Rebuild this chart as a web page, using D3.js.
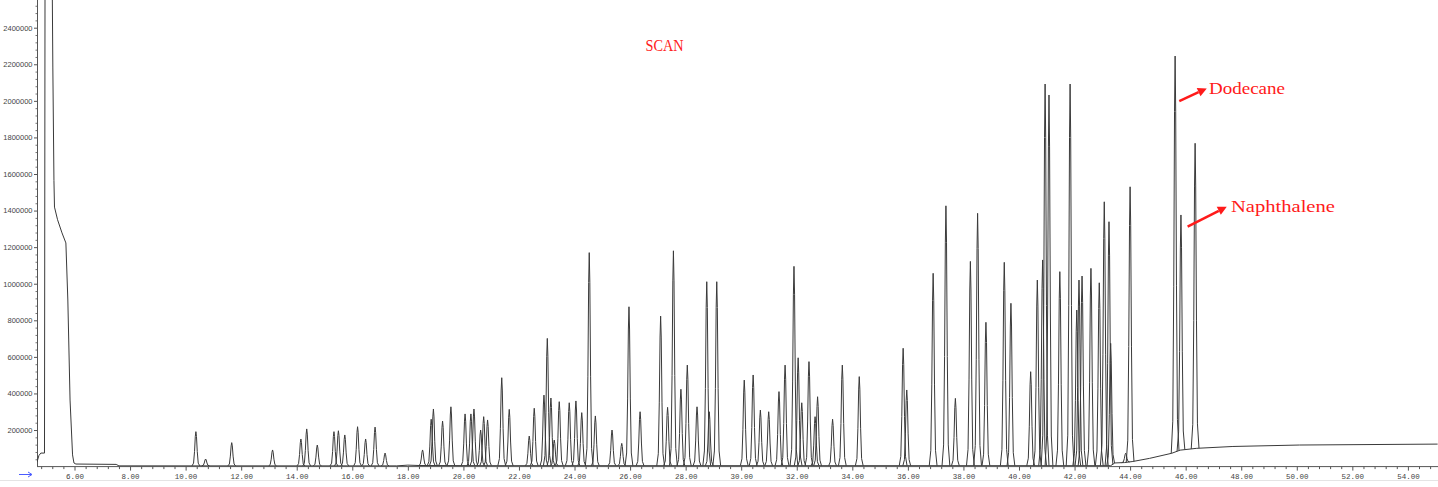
<!DOCTYPE html>
<html>
<head>
<meta charset="utf-8">
<script src="https://cdnjs.cloudflare.com/ajax/libs/d3/7.8.5/d3.min.js"></script>
<style>
  html, body { margin: 0; padding: 0; background: #fff; }
  svg { display: block; }
</style>
</head>
<body>
<svg id="chromatogram"></svg>
<script>
'use strict';

// tick labels
var xTicks = [6, 8, 10, 12, 14, 16, 18, 20, 22, 24, 26, 28, 30, 32, 34, 36, 38, 40, 42, 44, 46, 48, 50, 52, 54];
var yTicks = [200000, 400000, 600000, 800000, 1000000, 1200000, 1400000, 1600000, 1800000, 2000000, 2200000, 2400000];

// solvent front, read vertex by vertex (min, abundance)
var solventTime = [4.65, 4.72, 4.79, 4.92, 4.94, 5.19, 5.22, 5.26, 5.28, 5.39, 5.55, 5.69, 5.76, 5.84, 5.93, 5.98, 6.05];
var solventAbund = [25000, 61000, 74000, 74000, 2800000, 2800000, 2185000, 1564000, 1419000, 1350000, 1278000, 1223000, 911000, 364000, 64000, 20000, 14000];

// baseline drift
var baseTime = [6.05, 7.50, 7.60, 17.6, 18.0, 18.4, 21.0, 43.30, 43.45, 43.80, 44.10, 44.70, 45.50, 45.80, 46.40, 47.70, 50.10, 55.07];
var baseAbund = [14000, 12000, 4000, 4000, 8000, 6000, 5000, 5000, 20000, 22000, 28000, 45000, 73000, 90000, 100000, 110000, 118000, 123000];

// peak apexes: retention time (min) and abundance
var peakTime = [10.37, 10.72, 11.66, 13.13, 14.15, 14.36, 14.74, 15.34, 15.50, 15.73,
  16.19, 16.48, 16.82, 17.18, 18.53, 18.84, 18.92, 19.25, 19.55, 20.06,
  20.27, 20.38, 20.62, 20.73, 20.87, 21.38, 21.65, 22.37, 22.55, 22.90,
  23.02, 23.15, 23.27, 23.45, 23.81, 24.05, 24.26, 24.53, 24.75, 25.35,
  25.70, 25.96, 26.36, 27.10, 27.35, 27.56, 27.83, 28.06, 28.41, 28.76,
  28.85, 29.12, 30.11, 30.43, 30.69, 30.99, 31.36, 31.58, 31.90, 32.05,
  32.18, 32.44, 32.66, 32.75, 33.29, 33.64, 34.25, 35.83, 35.96, 36.91,
  37.37, 37.71, 38.25, 38.51, 38.81, 39.47, 39.71, 40.42, 40.66, 40.85,
  40.94, 41.08, 41.47, 41.84, 42.08, 42.16, 42.27, 42.59, 42.89, 43.07,
  43.24, 43.30, 43.84, 44.00, 45.62, 45.83, 46.34];
var peakAbund = [191000, 41500, 131000, 91000, 151000, 206000, 118000, 191000, 196000, 173000,
  218000, 151000, 216000, 74000, 91000, 259000, 315000, 249000, 327000, 288000,
  288000, 315000, 200000, 273000, 255000, 486000, 313000, 167000, 319000, 391000,
  701000, 375000, 145000, 355000, 349000, 359000, 295000, 1170000, 277000, 200000,
  127000, 874000, 300000, 823000, 324000, 1180000, 423000, 555000, 327000, 1011000,
  300000, 1011000, 473000, 501000, 309000, 300000, 410000, 555000, 1095000, 595000,
  349000, 574000, 273000, 382000, 259000, 555000, 492000, 647000, 419000, 1057000,
  1426000, 373000, 1122000, 1385000, 789000, 1117000, 893000, 519000, 1020000, 1130000,
  2092000, 2032000, 1066000, 2092000, 856000, 1020000, 1042000, 1084000, 1005000, 1448000,
  1339000, 674000, 73000, 1530000, 2245000, 1376000, 1768000];

// annotations (data units)
var titleText = 'SCAN';
var titlePos = [26.555, 2272000];
var annoLabels = ['Dodecane', 'Naphthalene'];
var annoTextPos = [[46.84, 2037000], [47.63, 1392000]];
var annoArrowFrom = [[45.77, 1999000], [46.07, 1312000]];
var annoArrowTo = [[46.76, 2068000], [47.48, 1421000]];

var width = 1438, height = 487;
var plotLeft = 37, plotRight = 1438, plotTop = 0, plotBottom = 466.6;

var x = d3.scaleLinear().domain([6, 54]).range([74.5, 1407.9]);
var y = d3.scaleLinear().domain([0, 2400000]).range([plotBottom, 27.7]);
var baseline = d3.scaleLinear().domain(baseTime).range(baseAbund).clamp(true);

var svg = d3.select('#chromatogram')
  .attr('width', width)
  .attr('height', height);

svg.append('defs').append('clipPath')
  .attr('id', 'plot-clip')
  .append('rect')
  .attr('x', plotLeft)
  .attr('y', plotTop)
  .attr('width', plotRight - plotLeft)
  .attr('height', plotBottom - plotTop);

// faint rule under the axis labels
svg.append('line')
  .attr('x1', 0).attr('x2', width)
  .attr('y1', 480.5).attr('y2', 480.5)
  .attr('stroke', '#e4e4e4')
  .attr('stroke-width', 1);

// ---- axes ----
var axisColor = '#555';

var xAxis = svg.append('g')
  .attr('transform', 'translate(0,' + plotBottom + ')')
  .call(d3.axisBottom(x).tickValues(xTicks).tickSize(4).tickFormat(d3.format('.2f')));
xAxis.select('.domain').remove();
xAxis.selectAll('line').attr('stroke', axisColor);
xAxis.selectAll('text')
  .attr('y', 12)
  .attr('dy', 0)
  .attr('fill', '#444')
  .style('font-family', 'Liberation Mono, monospace')
  .style('font-size', '7.5px');

var xMinor = d3.range(4.8, 55.1, 0.4).filter(function(t) {
  return Math.abs(t / 2 - Math.round(t / 2)) > 0.01;
});
var xMinorAxis = svg.append('g')
  .attr('transform', 'translate(0,' + plotBottom + ')')
  .call(d3.axisBottom(x).tickValues(xMinor).tickSize(2.5).tickFormat(''));
xMinorAxis.select('.domain').remove();
xMinorAxis.selectAll('line').attr('stroke', axisColor);

var yAxis = svg.append('g')
  .attr('transform', 'translate(' + plotLeft + ',0)')
  .call(d3.axisLeft(y).tickValues(yTicks).tickSize(3).tickPadding(1.5).tickFormat(d3.format('d')));
yAxis.select('.domain').remove();
yAxis.selectAll('line').attr('stroke', axisColor);
yAxis.selectAll('text')
  .attr('fill', '#444')
  .style('font-family', 'Liberation Sans, Arial, sans-serif')
  .style('font-size', '7.5px');

var yMinor = d3.range(40000, 2560000, 40000).filter(function(v) { return v % 200000 !== 0; });
var yMinorAxis = svg.append('g')
  .attr('transform', 'translate(' + plotLeft + ',0)')
  .call(d3.axisLeft(y).tickValues(yMinor).tickSize(1.5).tickFormat(''));
yMinorAxis.select('.domain').remove();
yMinorAxis.selectAll('line').attr('stroke', '#777');

svg.append('line')
  .attr('x1', plotLeft + 0.5).attr('x2', plotLeft + 0.5)
  .attr('y1', plotTop).attr('y2', plotBottom)
  .attr('stroke', axisColor);
svg.append('line')
  .attr('x1', plotLeft).attr('x2', plotRight)
  .attr('y1', plotBottom).attr('y2', plotBottom)
  .attr('stroke', axisColor);

// little blue arrow left of the time axis
svg.append('path')
  .attr('d', 'M19,474.5H31.5M28,472L32,474.5L28,477')
  .attr('fill', 'none')
  .attr('stroke', '#4b5cff')
  .attr('stroke-width', 1);

// ---- trace ----
var trace = svg.append('g').attr('clip-path', 'url(#plot-clip)');
var line = d3.line()
  .x(function(d) { return x(d[0]); })
  .y(function(d) { return y(d[1]); });
var traceColor = '#3a3a3a';

var solvent = solventTime.map(function(t, i) { return [t, solventAbund[i]]; });
trace.append('path')
  .attr('d', line(solvent))
  .attr('fill', 'none')
  .attr('stroke', traceColor)
  .attr('stroke-width', 1);

var base = baseTime.map(function(t, i) { return [t, baseAbund[i]]; });
trace.append('path')
  .attr('d', line(base))
  .attr('fill', 'none')
  .attr('stroke', traceColor)
  .attr('stroke-width', 1);

// narrow peak glyph: [offset in half widths, fraction of height]
var peakShape = [[-1, 0], [-0.6, 0.08], [-0.35, 0.42], [-0.15, 0.86], [0, 1],
  [0.15, 0.86], [0.35, 0.42], [0.6, 0.08], [1, 0]];
var halfWidth = 0.14;

function peakPoints(t, h) {
  var rise = h - baseline(t);
  return peakShape.map(function(p) {
    var tt = t + p[0] * halfWidth;
    return [tt, baseline(tt) + rise * p[1]];
  });
}

var peaks = peakTime.map(function(t, i) { return peakPoints(t, peakAbund[i]); });
trace.selectAll('path.peak')
  .data(peaks)
  .enter()
  .append('path')
  .attr('class', 'peak')
  .attr('d', line)
  .attr('fill', 'none')
  .attr('stroke', traceColor)
  .attr('stroke-width', 1);

// ---- annotations ----
var red = '#ff1a1a';
var labelFont = 'Liberation Serif, Times New Roman, serif';

svg.append('text')
  .attr('x', x(titlePos[0]))
  .attr('y', y(titlePos[1]))
  .attr('textLength', 38)
  .attr('lengthAdjust', 'spacingAndGlyphs')
  .attr('fill', red)
  .style('font-family', labelFont)
  .style('font-size', '16px')
  .text(titleText);

var labelLengths = [76, 104];
annoLabels.forEach(function(label, i) {
  svg.append('text')
    .attr('x', x(annoTextPos[i][0]))
    .attr('y', y(annoTextPos[i][1]))
    .attr('textLength', labelLengths[i])
    .attr('lengthAdjust', 'spacingAndGlyphs')
    .attr('fill', red)
    .style('font-family', labelFont)
    .style('font-size', '17px')
    .text(label);

  var x0 = x(annoArrowFrom[i][0]), y0 = y(annoArrowFrom[i][1]);
  var x1 = x(annoArrowTo[i][0]), y1 = y(annoArrowTo[i][1]);
  var ang = Math.atan2(y1 - y0, x1 - x0);
  var headLen = 9, headHalf = 4.5;
  var bx = x1 - headLen * Math.cos(ang), by = y1 - headLen * Math.sin(ang);
  svg.append('line')
    .attr('x1', x0).attr('y1', y0)
    .attr('x2', bx).attr('y2', by)
    .attr('stroke', red)
    .attr('stroke-width', 2.5);
  svg.append('path')
    .attr('d', 'M' + x1 + ',' + y1 +
      'L' + (bx + headHalf * Math.sin(ang)) + ',' + (by - headHalf * Math.cos(ang)) +
      'L' + (bx - headHalf * Math.sin(ang)) + ',' + (by + headHalf * Math.cos(ang)) + 'Z')
    .attr('fill', red);
});
</script>
</body>
</html>
